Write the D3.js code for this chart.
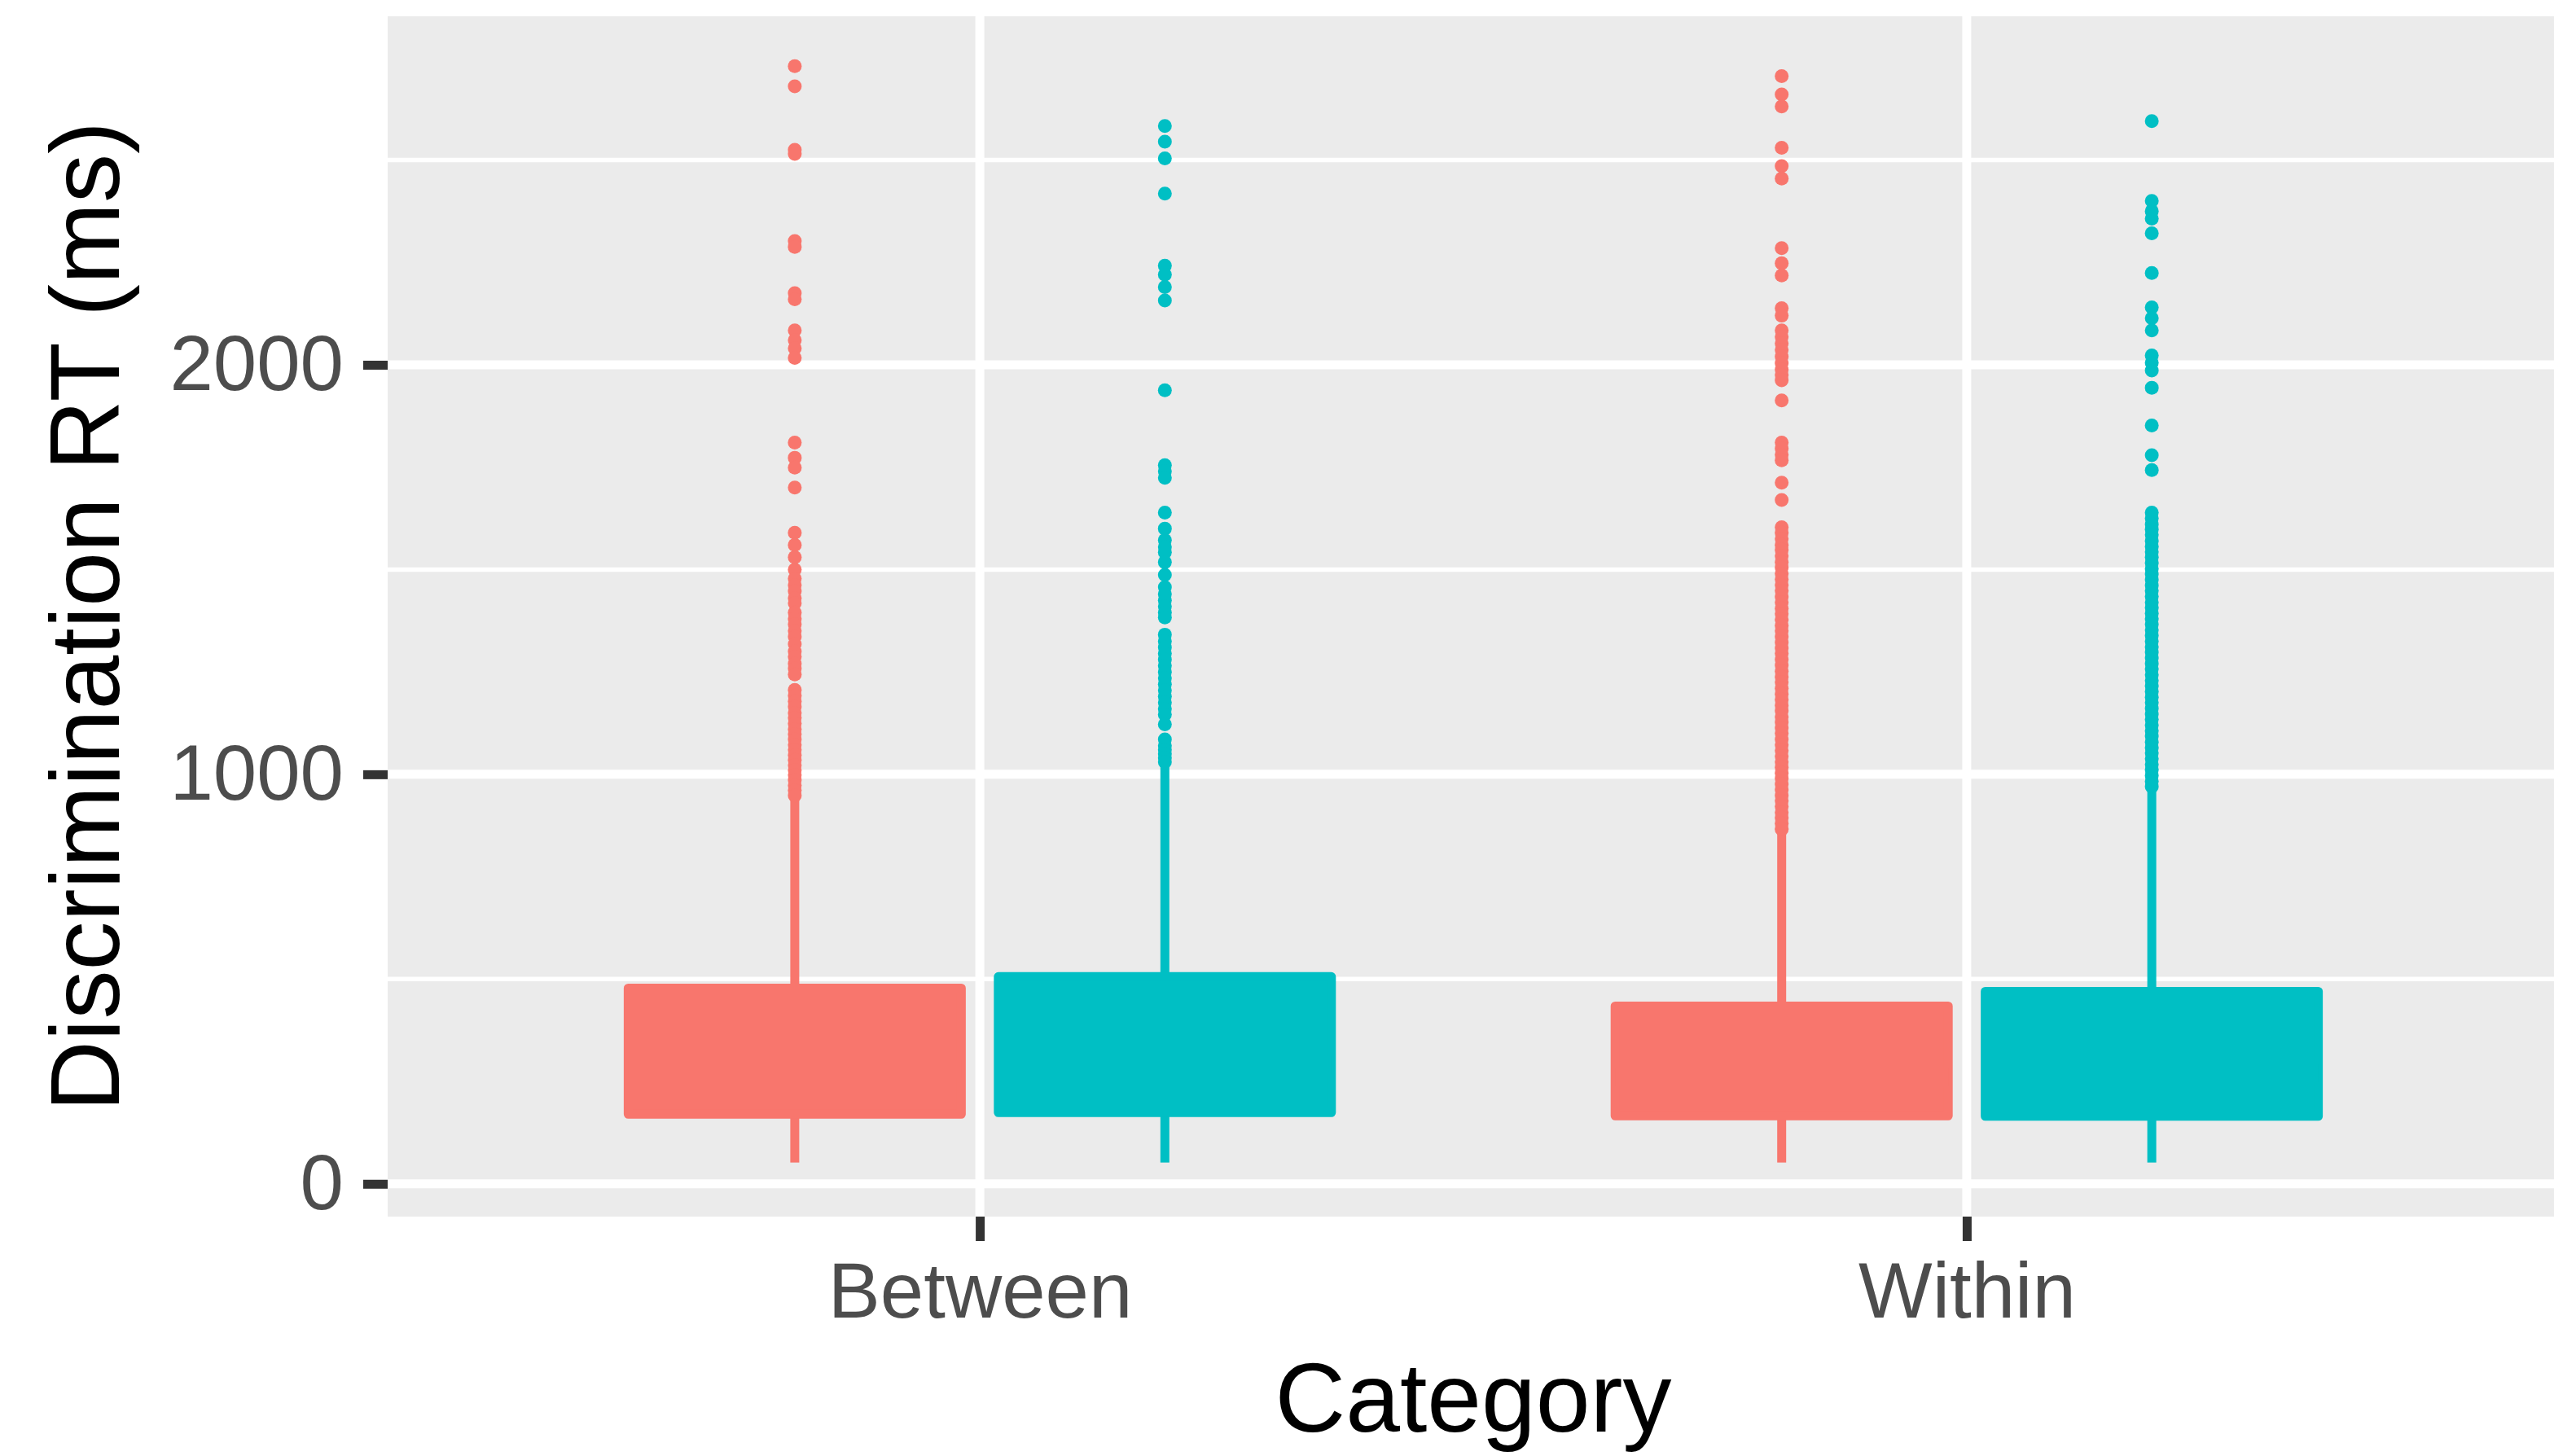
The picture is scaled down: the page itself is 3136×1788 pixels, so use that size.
<!DOCTYPE html>
<html>
<head>
<meta charset="utf-8">
<script src="https://cdn.jsdelivr.net/npm/d3@7"></script>
<style>
  html, body { margin: 0; padding: 0; background: #ffffff; }
  svg { display: block; }
</style>
</head>
<body>
<svg id="chart" width="3136" height="1788"></svg>
<script>
// ---------- data ----------
const categories = ["Between", "Within"];
const groupColors = ["#F8766D", "#00BFC4"];
const yMajorTicks = [0, 1000, 2000];
const yMinorTicks = [500, 1500, 2500];
const xLabel = "Category";
const yLabel = "Discrimination RT (ms)";

// one entry per box: Between/g1, Between/g2, Within/g1, Within/g2
const boxCategory = ["Between", "Between", "Within", "Within"];
const boxGroup    = [0, 1, 0, 1];
const whiskerLow  = [52, 52, 52, 52];
const q1Values    = [170, 174, 166, 165];
const medianValues= [280, 290, 260, 270];
const q3Values    = [478, 506, 434, 470];
const whiskerHigh = [940, 1022, 858, 962];

const outliersBetween1 = [2729, 2680, 2525, 2515, 2302, 2288, 2175, 2160, 2084, 2060, 2040, 2017, 1810, 1773, 1749, 1700, 1590, 1560, 1530, 1500, 1478, 1462, 1447, 1430, 1418, 1395, 1380, 1366, 1350, 1336, 1318, 1300, 1287, 1270, 1258, 1244, 1206, 1192, 1178, 1165, 1150, 1138, 1124, 1110, 1098, 1085, 1072, 1060, 1047, 1035, 1022, 1010, 998, 986, 973, 961, 948];
const outliersBetween2 = [2583, 2545, 2504, 2418, 2242, 2220, 2190, 2157, 1938, 1755, 1740, 1724, 1639, 1600, 1572, 1555, 1542, 1518, 1487, 1457, 1440, 1425, 1410, 1395, 1383, 1341, 1325, 1310, 1295, 1280, 1265, 1250, 1235, 1220, 1205, 1190, 1175, 1160, 1146, 1122, 1085, 1070, 1060, 1050, 1040, 1030];
const outliersWithin1 = [2705, 2660, 2631, 2530, 2485, 2455, 2285, 2248, 2218, 2138, 2120, 2084, 2068, 2052, 2036, 2020, 2004, 1988, 1975, 1962, 1913, 1810, 1795, 1780, 1767, 1712, 1670, 1603, 1590, 1575, 1560, 1548, 1533, 1518, 1505, 1490, 1476, 1462, 1448, 1433, 1420, 1405, 1392, 1378, 1363, 1350, 1336, 1322, 1308, 1295, 1280, 1266, 1252, 1238, 1225, 1210, 1196, 1182, 1168, 1155, 1140, 1127, 1113, 1100, 1085, 1072, 1058, 1044, 1030, 1017, 1003, 990, 976, 962, 948, 935, 921, 907, 894, 880, 866];
const outliersWithin2 = [2595, 2400, 2375, 2357, 2321, 2224, 2140, 2114, 2084, 2023, 2005, 1986, 1944, 1852, 1779, 1743, 1639, 1625, 1610, 1598, 1585, 1570, 1556, 1543, 1530, 1516, 1502, 1489, 1475, 1461, 1448, 1434, 1420, 1407, 1393, 1380, 1366, 1352, 1339, 1325, 1311, 1298, 1284, 1270, 1257, 1243, 1229, 1216, 1202, 1188, 1175, 1161, 1147, 1134, 1120, 1106, 1093, 1079, 1065, 1052, 1038, 1024, 1011, 997, 983, 970];
const boxOutliers = [outliersBetween1, outliersBetween2, outliersWithin1, outliersWithin2];

// ---------- layout ----------
const panel = { left: 476, right: 3142, top: 20, bottom: 1494 };
const FONT = "'Liberation Sans', Arial, Helvetica, sans-serif";
const LINE = 11;

const svg = d3.select("#chart");
svg.append("rect").attr("width", 3136).attr("height", 1788).attr("fill", "#ffffff");

const y = d3.scaleLinear().domain([-80, 2851]).range([panel.bottom, panel.top]);
const x = d3.scalePoint().domain(categories).range([panel.left, panel.right]).padding(0.6);
const step = x.step();
const dodgeWidth = 0.75 * step;
const boxWidth = dodgeWidth / 2 * 0.9;
const dodge = g => (g - 0.5) * dodgeWidth / 2;

// panel background
svg.append("rect")
  .attr("x", panel.left).attr("y", panel.top)
  .attr("width", panel.right - panel.left).attr("height", panel.bottom - panel.top)
  .attr("fill", "#EBEBEB");

const grid = svg.append("g");
grid.selectAll("line.minor").data(yMinorTicks).join("line")
  .attr("x1", panel.left).attr("x2", panel.right)
  .attr("y1", d => y(d)).attr("y2", d => y(d))
  .attr("stroke", "#ffffff").attr("stroke-width", LINE / 2);
grid.selectAll("line.majory").data(yMajorTicks).join("line")
  .attr("x1", panel.left).attr("x2", panel.right)
  .attr("y1", d => y(d)).attr("y2", d => y(d))
  .attr("stroke", "#ffffff").attr("stroke-width", LINE);
grid.selectAll("line.majorx").data(categories).join("line")
  .attr("x1", d => x(d)).attr("x2", d => x(d))
  .attr("y1", panel.top).attr("y2", panel.bottom)
  .attr("stroke", "#ffffff").attr("stroke-width", LINE);

// boxes
const boxes = d3.range(boxCategory.length).map(i => ({
  cx: x(boxCategory[i]) + dodge(boxGroup[i]),
  color: groupColors[boxGroup[i]],
  lo: whiskerLow[i], q1: q1Values[i], med: medianValues[i], q3: q3Values[i], hi: whiskerHigh[i],
  out: boxOutliers[i]
}));

const gBox = svg.append("g");
boxes.forEach(b => {
  const g = gBox.append("g");
  g.append("line").attr("x1", b.cx).attr("x2", b.cx).attr("y1", y(b.q3)).attr("y2", y(b.hi))
    .attr("stroke", b.color).attr("stroke-width", LINE);
  g.append("line").attr("x1", b.cx).attr("x2", b.cx).attr("y1", y(b.q1)).attr("y2", y(b.lo))
    .attr("stroke", b.color).attr("stroke-width", LINE);
  g.append("rect")
    .attr("x", b.cx - boxWidth / 2).attr("width", boxWidth)
    .attr("y", y(b.q3)).attr("height", y(b.q1) - y(b.q3))
    .attr("fill", b.color).attr("stroke", b.color)
    .attr("stroke-width", LINE).attr("stroke-linejoin", "round");
  g.append("line").attr("x1", b.cx - boxWidth / 2).attr("x2", b.cx + boxWidth / 2)
    .attr("y1", y(b.med)).attr("y2", y(b.med))
    .attr("stroke", b.color).attr("stroke-width", LINE * 2);
  g.selectAll("circle").data(b.out).join("circle")
    .attr("cx", b.cx).attr("cy", d => y(d)).attr("r", 8.5)
    .attr("fill", b.color);
});

// axes
const yAxis = svg.append("g").attr("transform", `translate(${panel.left},0)`)
  .call(d3.axisLeft(y).tickValues(yMajorTicks).tickFormat(d3.format("d")).tickSize(30).tickPadding(24));
const xAxis = svg.append("g").attr("transform", `translate(0,${panel.bottom})`)
  .call(d3.axisBottom(x).tickSize(30).tickPadding(26));
[yAxis, xAxis].forEach(a => {
  a.select(".domain").remove();
  a.selectAll(".tick line").attr("stroke", "#333333").attr("stroke-width", LINE);
  a.selectAll(".tick text").attr("fill", "#4D4D4D")
    .style("font-family", FONT).style("font-size", "96px");
});

// axis titles
svg.append("text")
  .attr("x", (panel.left + panel.right) / 2).attr("y", 1758)
  .attr("text-anchor", "middle")
  .style("font-family", FONT).style("font-size", "120px").attr("fill", "#000000")
  .text(xLabel);
svg.append("text")
  .attr("transform", `translate(146,${(panel.top + panel.bottom) / 2}) rotate(-90)`)
  .attr("text-anchor", "middle")
  .style("font-family", FONT).style("font-size", "120px").attr("fill", "#000000")
  .text(yLabel);
</script>
</body>
</html>
